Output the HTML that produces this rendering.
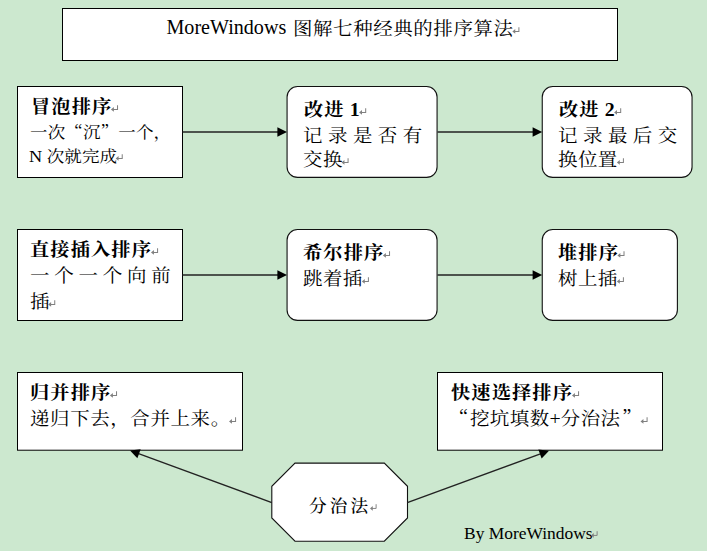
<!DOCTYPE html>
<html lang="zh-CN">
<head>
<meta charset="utf-8">
<title>MoreWindows 图解七种经典的排序算法</title>
<style>
html,body{margin:0;padding:0;}
body{width:707px;height:551px;background:#cce8cf;position:relative;overflow:hidden;
 font-family:"Liberation Serif","Noto Serif CJK SC",serif;color:#000;}
svg.shapes{position:absolute;left:0;top:0;}
.t{position:absolute;white-space:nowrap;line-height:26px;height:26px;}
.t span{line-height:0;}
.h{font-size:17.8px;font-weight:700;letter-spacing:1.05px;transform:scaleX(1.08);transform-origin:0 0;}
.b{font-size:18.2px;font-weight:400;letter-spacing:0.4px;transform:scaleX(1.07);transform-origin:0 0;}
.s{font-size:16.4px;font-weight:400;letter-spacing:0.1px;transform:scaleX(1.07);transform-origin:0 0;}
.k{font-size:17.6px;font-weight:500;letter-spacing:3.1px;}
.l{font-size:17.6px;letter-spacing:0;}
.q{font-family:"Noto Serif CJK SC",serif;}
.m{display:inline-block;width:6.6px;height:7px;vertical-align:baseline;position:relative;top:-1px;margin-left:-1.2px;overflow:visible;}
</style>
</head>
<body>
<svg class="shapes" width="707" height="551" viewBox="0 0 707 551">
 <g fill="#fff" stroke="#000" stroke-width="1">
  <rect x="62.5" y="8.5" width="555" height="52"/>
  <rect x="17.5" y="86.5" width="165" height="91"/>
  <rect x="17.5" y="229.5" width="165" height="91"/>
  <rect x="17.5" y="372.5" width="225" height="77.7"/>
  <rect x="437.5" y="372.5" width="225" height="77.7"/>
 </g>
 <g fill="#fff" stroke="#111" stroke-width="1.1">
  <rect x="287.07" y="86.5" width="150" height="90.9" rx="10.5" ry="10.5"/>
  <rect x="542.25" y="86.5" width="149.8" height="90.9" rx="10.5" ry="10.5"/>
  <rect x="287.07" y="229.5" width="150" height="90.9" rx="10.5" ry="10.5"/>
  <rect x="542.25" y="229.5" width="135.15" height="90.9" rx="10.5" ry="10.5"/>
  <polygon points="295.0,463.1 384.3,463.1 407.5,486.3 407.5,518.0 384.3,541.2 295.0,541.2 271.8,518.0 271.8,486.3"/>
 </g>
 <g stroke="#222" stroke-width="1.3" fill="none">
  <line x1="182.5" y1="132" x2="278.92" y2="132.00"/>
  <line x1="437.5" y1="132" x2="534.12" y2="132.00"/>
  <line x1="182.5" y1="275" x2="278.92" y2="275.00"/>
  <line x1="437.5" y1="275" x2="534.12" y2="275.00"/>
  <line x1="271.8" y1="502.6" x2="137.21" y2="453.05"/>
  <line x1="407.3" y1="502.6" x2="541.79" y2="453.34"/>
 </g>
 <g fill="#000" stroke="none">
  <polygon points="287.00,132.00 277.40,136.80 277.40,127.20"/>
  <polygon points="542.20,132.00 532.60,136.80 532.60,127.20"/>
  <polygon points="287.00,275.00 277.40,279.80 277.40,270.20"/>
  <polygon points="542.20,275.00 532.60,279.80 532.60,270.20"/>
  <polygon points="130.00,450.40 140.67,449.21 137.35,458.22"/>
  <polygon points="549.00,450.70 541.64,458.51 538.33,449.49"/>
 </g>
</svg>

<div class="t" style="left:166.5px;top:16px;font-size:18.2px;"><span class="l" style="font-size:20.1px;position:relative;top:-1px;">MoreWindows </span><span style="display:inline-block;letter-spacing:0.55px;transform:scaleX(1.07);transform-origin:0 50%;margin-left:1.5px;">图解七种经典的排序算法<svg class="m" viewBox="0 0 7 7"><path d="M6.5 0V4.5H1.8" fill="none" stroke="#808080"/><path d="M0 4.5L2.9 2V7Z" fill="#808080"/></svg></span></div>

<div class="t h" style="left:31px;top:94px;">冒泡排序<svg class="m" viewBox="0 0 7 7"><path d="M6.5 0V4.5H1.8" fill="none" stroke="#808080"/><path d="M0 4.5L2.9 2V7Z" fill="#808080"/></svg></div>
<div class="t s" style="left:30.3px;top:120px;">一次<span class="q">“</span>沉<span class="q">”</span>一个，</div>
<div class="t s" style="left:29px;top:144px;"><span class="l" style="font-size:17px">N </span>次就完成<svg class="m" viewBox="0 0 7 7"><path d="M6.5 0V4.5H1.8" fill="none" stroke="#808080"/><path d="M0 4.5L2.9 2V7Z" fill="#808080"/></svg></div>

<div class="t h" style="left:303.5px;top:97px;">改进<span class="l" style="font-size:18.4px"> 1</span><svg class="m" style="margin-left:0" viewBox="0 0 7 7"><path d="M6.5 0V4.5H1.8" fill="none" stroke="#808080"/><path d="M0 4.5L2.9 2V7Z" fill="#808080"/></svg></div>
<div class="t b" style="left:303px;top:123px;letter-spacing:5.12px;">记录是否有</div>
<div class="t b" style="left:303px;top:147px;">交换<svg class="m" viewBox="0 0 7 7"><path d="M6.5 0V4.5H1.8" fill="none" stroke="#808080"/><path d="M0 4.5L2.9 2V7Z" fill="#808080"/></svg></div>

<div class="t h" style="left:558.7px;top:97px;">改进<span class="l" style="font-size:18.4px"> 2</span><svg class="m" style="margin-left:0" viewBox="0 0 7 7"><path d="M6.5 0V4.5H1.8" fill="none" stroke="#808080"/><path d="M0 4.5L2.9 2V7Z" fill="#808080"/></svg></div>
<div class="t b" style="left:558.2px;top:123px;letter-spacing:5.12px;">记录最后交</div>
<div class="t b" style="left:558.2px;top:147px;">换位置<svg class="m" viewBox="0 0 7 7"><path d="M6.5 0V4.5H1.8" fill="none" stroke="#808080"/><path d="M0 4.5L2.9 2V7Z" fill="#808080"/></svg></div>

<div class="t h" style="left:30px;top:237px;">直接插入排序<svg class="m" viewBox="0 0 7 7"><path d="M6.5 0V4.5H1.8" fill="none" stroke="#808080"/><path d="M0 4.5L2.9 2V7Z" fill="#808080"/></svg></div>
<div class="t b" style="left:30px;top:263px;letter-spacing:4.47px;">一个一个向前</div>
<div class="t b" style="left:30px;top:289px;">插<svg class="m" viewBox="0 0 7 7"><path d="M6.5 0V4.5H1.8" fill="none" stroke="#808080"/><path d="M0 4.5L2.9 2V7Z" fill="#808080"/></svg></div>

<div class="t h" style="left:303px;top:240px;">希尔排序<svg class="m" viewBox="0 0 7 7"><path d="M6.5 0V4.5H1.8" fill="none" stroke="#808080"/><path d="M0 4.5L2.9 2V7Z" fill="#808080"/></svg></div>
<div class="t b" style="left:303px;top:266px;">跳着插<svg class="m" viewBox="0 0 7 7"><path d="M6.5 0V4.5H1.8" fill="none" stroke="#808080"/><path d="M0 4.5L2.9 2V7Z" fill="#808080"/></svg></div>

<div class="t h" style="left:558px;top:240px;">堆排序<svg class="m" viewBox="0 0 7 7"><path d="M6.5 0V4.5H1.8" fill="none" stroke="#808080"/><path d="M0 4.5L2.9 2V7Z" fill="#808080"/></svg></div>
<div class="t b" style="left:558px;top:266px;">树上插<svg class="m" viewBox="0 0 7 7"><path d="M6.5 0V4.5H1.8" fill="none" stroke="#808080"/><path d="M0 4.5L2.9 2V7Z" fill="#808080"/></svg></div>

<div class="t h" style="left:30px;top:380px;">归并排序<svg class="m" viewBox="0 0 7 7"><path d="M6.5 0V4.5H1.8" fill="none" stroke="#808080"/><path d="M0 4.5L2.9 2V7Z" fill="#808080"/></svg></div>
<div class="t b" style="left:30px;top:406px;letter-spacing:0.57px;">递归下去，合并上来。<svg class="m" viewBox="0 0 7 7"><path d="M6.5 0V4.5H1.8" fill="none" stroke="#808080"/><path d="M0 4.5L2.9 2V7Z" fill="#808080"/></svg></div>

<div class="t h" style="left:451px;top:380px;">快速选择排序<svg class="m" viewBox="0 0 7 7"><path d="M6.5 0V4.5H1.8" fill="none" stroke="#808080"/><path d="M0 4.5L2.9 2V7Z" fill="#808080"/></svg></div>
<div class="t b" style="left:449px;top:406px;"><span class="q" style="margin-right:1px">“</span>挖坑填数<span class="l" style="font-size:18.6px">+</span>分治法<span class="q" style="margin-left:1.5px">”</span><svg class="m" viewBox="0 0 7 7"><path d="M6.5 0V4.5H1.8" fill="none" stroke="#808080"/><path d="M0 4.5L2.9 2V7Z" fill="#808080"/></svg></div>

<div class="t k" style="left:309px;top:493px;">分治法<svg class="m" viewBox="0 0 7 7"><path d="M6.5 0V4.5H1.8" fill="none" stroke="#808080"/><path d="M0 4.5L2.9 2V7Z" fill="#808080"/></svg></div>

<div class="t l" style="left:464px;top:520px;font-size:17.45px;">By MoreWindows<svg class="m" viewBox="0 0 7 7"><path d="M6.5 0V4.5H1.8" fill="none" stroke="#808080"/><path d="M0 4.5L2.9 2V7Z" fill="#808080"/></svg></div>
</body>
</html>
